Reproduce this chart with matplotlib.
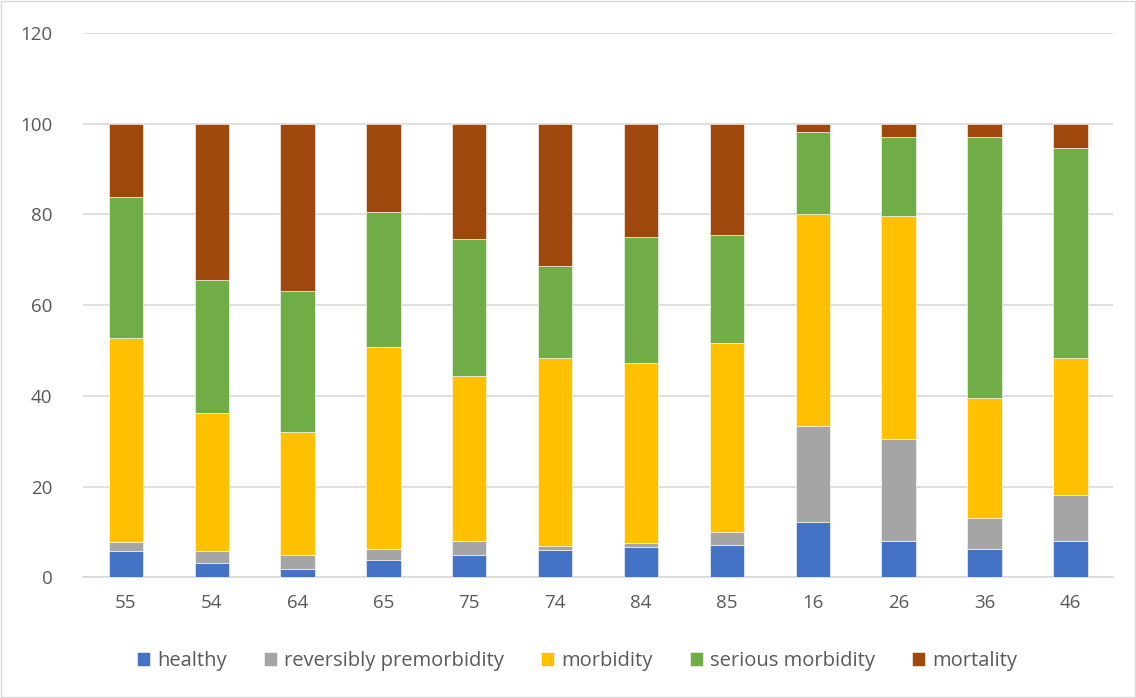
import matplotlib.pyplot as plt
import numpy as np

# data
groups = ['55', '54', '64', '65', '75', '74', '84', '85', '16', '26', '36', '46']
healthy = [5.7, 3.2, 1.9, 3.7, 4.9, 5.9, 6.6, 7.1, 12.2, 8.0, 6.2, 8.0]
premorbid = [2.1, 2.5, 3.0, 2.5, 3.1, 0.9, 0.9, 2.9, 21.2, 22.5, 6.9, 10.2]
morbidity = [44.9, 30.6, 27.2, 44.6, 36.4, 41.6, 39.8, 41.6, 46.6, 49.2, 26.4, 30.1]
serious = [31.0, 29.2, 31.0, 29.6, 30.2, 20.2, 27.6, 23.8, 18.2, 17.4, 57.6, 46.2]
mortality = [16.3, 34.5, 36.9, 19.6, 25.4, 31.4, 25.1, 24.6, 1.8, 2.9, 2.9, 5.5]

series = [
    ('healthy', healthy, '#4472C4'),
    ('reversibly premorbidity', premorbid, '#A5A5A5'),
    ('morbidity', morbidity, '#FFC000'),
    ('serious morbidity', serious, '#70AD47'),
    ('mortality', mortality, '#9E480E'),
]

plt.rcParams['font.family'] = ['Open Sans', 'DejaVu Sans']

fig = plt.figure(figsize=(11.36, 6.98), dpi=100)
ax = fig.add_axes([0.073, 0.173, 0.907, 0.78])

x = np.arange(len(groups))
bottom = np.zeros(len(groups))
for name, vals, col in series:
    ax.bar(x, vals, 0.4, bottom=bottom, color=col, label=name,
           edgecolor='white', linewidth=0.4, zorder=3)
    bottom += np.array(vals)

ax.set_ylim(0, 120)
ax.set_yticks(range(0, 121, 20))
ax.set_xlim(-0.5, len(groups) - 0.5)
ax.set_xticks(x)
ax.set_xticklabels(groups)
ax.grid(axis='y', color='#D9D9D9', linewidth=1.2, zorder=0)
for s in ['top', 'right', 'left']:
    ax.spines[s].set_visible(False)
ax.spines['bottom'].set_color('#D9D9D9')
ax.spines['bottom'].set_linewidth(1.2)
ax.tick_params(length=0, labelsize=13.5, labelcolor='#595959', pad=12)
ax.tick_params(axis='y', pad=22)

leg = fig.legend(loc='center', bbox_to_anchor=(0.508, 0.053), ncol=5,
                 frameon=False, fontsize=14.5, handlelength=0.65,
                 handleheight=0.65, handletextpad=0.35, columnspacing=1.85)
for t in leg.get_texts():
    t.set_color('#595959')

# light border round the whole chart
fig.patches.append(plt.Rectangle((0.001, 0.001), 0.998, 0.998,
                                 transform=fig.transFigure, fill=False,
                                 edgecolor='#D9D9D9', linewidth=1))

fig.savefig('out.png', dpi=100)
